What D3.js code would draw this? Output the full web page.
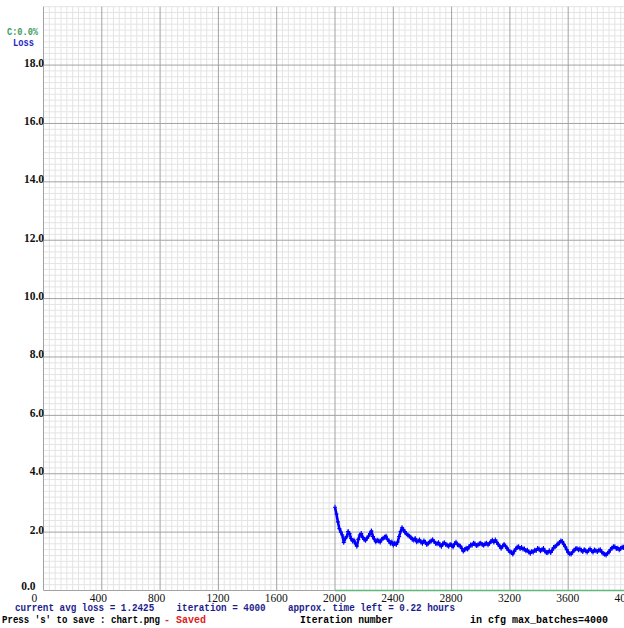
<!DOCTYPE html>
<html lang="en">
<head>
  <meta charset="UTF-8">
  <title>chart.png</title>
  <script src="https://d3js.org/d3.v7.min.js"></script>
  <style>
    body {
      margin: 0;
      background: #fff;
    }
    .mono {
      font-family: "Liberation Mono", "DejaVu Sans Mono", monospace;
      font-weight: bold;
      font-size: 10px;
      white-space: pre;
    }
    .axis-label {
      font-family: "Liberation Serif", serif;
      font-size: 11.5px;
    }
  </style>
</head>
<body>
  <div id="chart"></div>

  <script>
    // tick labels
    const xTickLabels = [0, 400, 800, 1200, 1600, 2000, 2400, 2800, 3200, 3600, 4000];
    const yTickLabels = [0, 2, 4, 6, 8, 10, 12, 14, 16, 18];

    // loss, one value every 10 iterations from 2000 to 4000
    const lossStart = 2000, lossStep = 10;
    const lossValues = [
      2.85, 2.62, 2.35, 2.12, 2.00, 1.90, 1.65, 1.78, 1.84, 2.02,
      1.95, 1.78, 1.70, 1.72, 1.60, 1.52, 1.75, 1.90, 1.95, 1.82,
      1.75, 1.72, 1.80, 1.86, 1.95, 2.04, 1.85, 1.76, 1.67, 1.72,
      1.70, 1.66, 1.75, 1.79, 1.82, 1.86, 1.75, 1.70, 1.62, 1.66,
      1.56, 1.62, 1.58, 1.66, 1.85, 2.02, 2.15, 2.08, 2.00, 1.94,
      1.90, 1.86, 1.82, 1.76, 1.73, 1.78, 1.67, 1.70, 1.73, 1.66,
      1.62, 1.70, 1.65, 1.58, 1.62, 1.66, 1.70, 1.74, 1.68, 1.62,
      1.60, 1.64, 1.56, 1.52, 1.60, 1.64, 1.58, 1.55, 1.52, 1.58,
      1.55, 1.50, 1.60, 1.65, 1.58, 1.55, 1.52, 1.44, 1.35, 1.40,
      1.45, 1.42, 1.50, 1.56, 1.55, 1.62, 1.60, 1.54, 1.56, 1.60,
      1.62, 1.58, 1.55, 1.60, 1.62, 1.57, 1.62, 1.68, 1.72, 1.66,
      1.73, 1.65, 1.58, 1.52, 1.45, 1.52, 1.58, 1.52, 1.45, 1.38,
      1.33, 1.30, 1.25, 1.35, 1.42, 1.48, 1.50, 1.44, 1.47, 1.42,
      1.42, 1.36, 1.38, 1.32, 1.28, 1.34, 1.32, 1.38, 1.37, 1.44,
      1.42, 1.36, 1.40, 1.44, 1.35, 1.30, 1.30, 1.36, 1.30, 1.38,
      1.47, 1.50, 1.55, 1.60, 1.64, 1.70, 1.68, 1.58, 1.50, 1.40,
      1.30, 1.26, 1.25, 1.32, 1.38, 1.42, 1.44, 1.40, 1.42, 1.38,
      1.34, 1.40, 1.36, 1.32, 1.38, 1.42, 1.36, 1.32, 1.39, 1.36,
      1.34, 1.38, 1.40, 1.32, 1.27, 1.24, 1.22, 1.28, 1.32, 1.40,
      1.45, 1.50, 1.50, 1.44, 1.45, 1.40, 1.44, 1.48, 1.48, 1.42,
      1.40
    ];

    // mAP line (0 % since 2000)
    const mapIters = [2000, 4000];
    const mapValues = [0, 0];

    const width = 624, height = 628;

    const svg = d3.select("#chart")
                  .append("svg")
                  .attr("width", width)
                  .attr("height", height);

    const x = d3.scaleLinear().domain([0, 4000]).range([43.5, 626.5]);
    const y = d3.scaleLinear().domain([0, 20]).range([590.5, 6.7]);

    // grid: 100 thin lines each way, every 10th one darker
    const minorX = d3.range(101).map(i => i * 40);
    const minorY = d3.range(101).map(i => i * 0.2);

    svg.append("g")
       .selectAll("line")
       .data(minorX.filter((d, i) => i % 10 !== 0))
       .join("line")
       .attr("x1", d => x(d)).attr("x2", d => x(d))
       .attr("y1", y(20)).attr("y2", y(0))
       .attr("stroke", "#e4e4e4");

    svg.append("g")
       .selectAll("line")
       .data(minorY.filter((d, i) => i % 10 !== 0 || i === 100))
       .join("line")
       .attr("x1", x(0)).attr("x2", x(4000))
       .attr("y1", d => y(d)).attr("y2", d => y(d))
       .attr("stroke", "#e4e4e4");

    svg.append("g")
       .selectAll("line")
       .data(xTickLabels)
       .join("line")
       .attr("x1", d => x(d)).attr("x2", d => x(d))
       .attr("y1", y(20)).attr("y2", y(0))
       .attr("stroke", "#a2a2a2");

    svg.append("g")
       .selectAll("line")
       .data(yTickLabels)
       .join("line")
       .attr("x1", x(0)).attr("x2", x(4000))
       .attr("y1", d => y(d)).attr("y2", d => y(d))
       .attr("stroke", "#a2a2a2");

    // mAP line
    svg.append("path")
       .datum(mapIters.map((it, i) => [it, mapValues[i]]))
       .attr("fill", "none")
       .attr("stroke", "#5cb87c")
       .attr("stroke-width", 1.5)
       .attr("d", d3.line().x(d => x(d[0])).y(d => y(d[1])));

    // loss: thick band of little crosses, like darknet's dots
    const lossData = lossValues.map((v, i) => [lossStart + i * lossStep, v]);

    svg.append("path")
       .datum(lossData)
       .attr("fill", "none")
       .attr("stroke", "#0000ff")
       .attr("stroke-width", 2.6)
       .attr("stroke-linejoin", "round")
       .attr("d", d3.line().x(d => x(d[0])).y(d => y(d[1])));

    svg.append("g")
       .selectAll("path")
       .data(lossData)
       .join("path")
       .attr("d", d => `M${x(d[0]) - 2},${y(d[1])}h4M${x(d[0])},${y(d[1]) - 2.5}v5`)
       .attr("stroke", "#0000ff")
       .attr("stroke-width", 1.1);

    // axis labels
    svg.append("g")
       .selectAll("text")
       .data(xTickLabels)
       .join("text")
       .attr("class", "axis-label")
       .attr("x", d => x(d) - 12)
       .attr("y", 601.5)
       .attr("fill", "#111")
       .text(d => d);

    svg.append("g")
       .selectAll("text")
       .data(yTickLabels)
       .join("text")
       .attr("class", "axis-label")
       .attr("x", d => d === 0 ? x(0) - 8 : x(0) + 0.5)
       .attr("y", d => y(d) + (d === 0 ? -0.5 : 1.5))
       .attr("text-anchor", "end")
       .attr("font-weight", "bold")
       .attr("fill", "#111")
       .text(d => d.toFixed(1));

    // legend top-left
    svg.append("text").attr("class", "mono")
       .attr("x", 7).attr("y", 34.5)
       .attr("fill", "#3c9c5c")
       .attr("textLength", 31).attr("lengthAdjust", "spacingAndGlyphs")
       .text("C:0.0%");
    svg.append("text").attr("class", "mono")
       .attr("x", 13).attr("y", 45.5)
       .attr("fill", "#2424c8")
       .attr("textLength", 21).attr("lengthAdjust", "spacingAndGlyphs")
       .text("Loss");

    // status lines at the bottom
    svg.append("text").attr("class", "mono")
       .attr("x", 15).attr("y", 611)
       .attr("fill", "#1c1c8c")
       .attr("textLength", 440).attr("lengthAdjust", "spacingAndGlyphs")
       .text("current avg loss = 1.2425    iteration = 4000    approx. time left = 0.22 hours");

    svg.append("text").attr("class", "mono")
       .attr("x", 2).attr("y", 622.5)
       .attr("fill", "#000")
       .attr("textLength", 158).attr("lengthAdjust", "spacingAndGlyphs")
       .text("Press 's' to save : chart.png");

    svg.append("text").attr("class", "mono")
       .attr("x", 164).attr("y", 622.5)
       .attr("fill", "#e02020")
       .text("- Saved");

    svg.append("text").attr("class", "mono")
       .attr("x", 300).attr("y", 622.5)
       .attr("fill", "#000")
       .attr("textLength", 93).attr("lengthAdjust", "spacingAndGlyphs")
       .text("Iteration number");

    svg.append("text").attr("class", "mono")
       .attr("x", 470).attr("y", 622.5)
       .attr("fill", "#000")
       .attr("textLength", 138).attr("lengthAdjust", "spacingAndGlyphs")
       .text("in cfg max_batches=4000");
  </script>
</body>
</html>
